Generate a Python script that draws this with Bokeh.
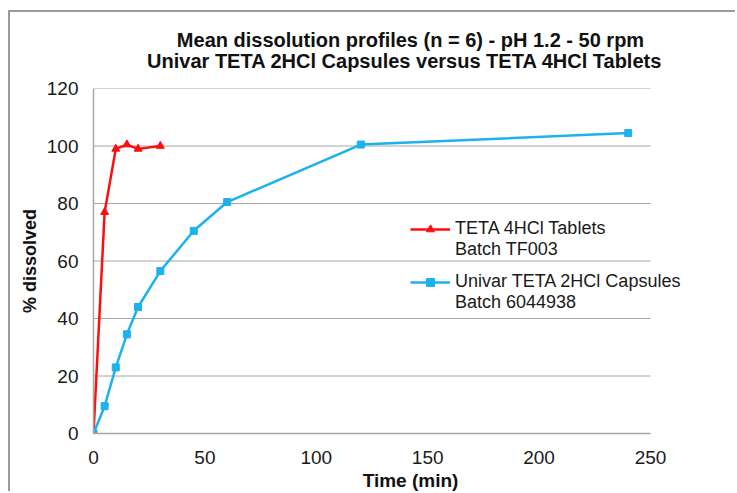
from bokeh.plotting import figure
from bokeh.models import Range1d, Legend, LegendItem, FixedTicker, Title
from bokeh.embed import file_html
from bokeh.resources import INLINE

# Data
time_tablets = [0, 5, 10, 15, 20, 30]
pct_tablets = [0, 77, 99, 100.5, 99, 100]
time_capsules = [0, 5, 10, 15, 20, 30, 45, 60, 120, 240]
pct_capsules = [0, 9.5, 23, 34.5, 44, 56.5, 70.5, 80.5, 100.5, 104.5]
x_ticks = [0, 50, 100, 150, 200, 250]
y_ticks = [0, 20, 40, 60, 80, 100, 120]

title_line1 = "Mean dissolution profiles (n = 6) - pH 1.2 - 50 rpm"
title_line2 = "Univar TETA 2HCl Capsules versus  TETA 4HCl  Tablets"
label_tablets = ["TETA 4HCl Tablets", "Batch TF003"]
label_capsules = ["Univar TETA 2HCl Capsules", "Batch 6044938"]

RED = "#ff0d0d"
BLUE = "#1cb2ec"
FONT = "Liberation Sans"

# layout (pixels)
FIG_W, FIG_H = 727, 481
B_LEFT, B_RIGHT, B_TOP, B_BOTTOM = 83, 10, 76, 60
AXIS_PX = 557  # pixel length of the 0..250 axis
frame_w = FIG_W - B_LEFT - B_RIGHT
x_max = x_ticks[-1]
x_end = x_max * frame_w / AXIS_PX

p = figure(width=FIG_W, height=FIG_H, output_backend="svg", toolbar_location=None,
           x_range=Range1d(0, x_end), y_range=Range1d(y_ticks[0], y_ticks[-1]),
           min_border_left=B_LEFT, min_border_right=B_RIGHT,
           min_border_top=B_TOP, min_border_bottom=B_BOTTOM, title=None)
p.styles = {"border-left": "2px solid #9a9a9a", "border-top": "2px solid #9a9a9a",
            "margin-left": "8px", "margin-top": "10px"}

for txt, so in ((title_line2, 34), (title_line1, -40)):
    t = Title(text=txt, align="center", text_font=FONT,
              text_font_size="20px", text_font_style="bold", text_color="#111111",
              standoff=so)
    p.add_layout(t, "above")

p.outline_line_color = None
p.xgrid.grid_line_color = None
p.ygrid.grid_line_color = None

# horizontal grid lines spanning 0..250 only
p.segment(x0=[0] * (len(y_ticks) - 1), x1=[x_max] * (len(y_ticks) - 1),
          y0=y_ticks[1:], y1=y_ticks[1:], line_color="#a6a6a6", line_width=1)

p.xaxis.ticker = FixedTicker(ticks=x_ticks)
p.yaxis.ticker = FixedTicker(ticks=y_ticks)
p.xaxis.bounds = (0, x_max)
for ax in (p.xaxis, p.yaxis):
    ax.axis_line_color = "#a6a6a6"
    ax.axis_line_width = 1.5
    ax.major_tick_line_color = None
    ax.minor_tick_line_color = None
    ax.major_tick_out = 0
    ax.major_tick_in = 0
    ax.major_label_text_font = FONT
    ax.major_label_text_font_size = "19px"
    ax.major_label_text_color = "#1a1a1a"
    ax.axis_label_text_font = FONT
    ax.axis_label_text_font_style = "bold"
    ax.axis_label_text_color = "#111111"

p.xaxis.axis_label = "Time (min)"
p.yaxis.axis_label = "% dissolved"
p.xaxis.axis_label_text_font_size = "19px"
p.yaxis.axis_label_text_font_size = "18px"
p.xaxis.major_label_standoff = 17
p.yaxis.major_label_standoff = 15
p.xaxis.axis_label_standoff = 3
p.yaxis.axis_label_standoff = 4

r1 = p.line(time_tablets, pct_tablets, line_color=RED, line_width=2.5)
m1 = p.scatter(time_tablets, pct_tablets, marker="triangle", size=8,
               fill_color=RED, line_color=RED)
r2 = p.line(time_capsules, pct_capsules, line_color=BLUE, line_width=2.5)
m2 = p.scatter(time_capsules, pct_capsules, marker="square", size=7,
               fill_color=BLUE, line_color=BLUE)
# invisible renderers for second legend text lines
d1 = p.line(time_tablets, pct_tablets, line_alpha=0)
d2 = p.line(time_capsules, pct_capsules, line_alpha=0)


def make_legend(labels, rens, dummy, loc):
    lg = Legend(items=[LegendItem(label=labels[0], renderers=rens),
                       LegendItem(label=labels[1], renderers=[dummy])],
                location=loc)
    lg.border_line_color = None
    lg.background_fill_alpha = 0
    lg.padding = 0
    lg.margin = 0
    lg.spacing = 0
    lg.glyph_width = 40
    lg.glyph_height = 20
    lg.label_height = 20
    lg.label_standoff = 5
    lg.label_text_font = FONT
    lg.label_text_font_size = "18px"
    lg.label_text_color = "#1a1a1a"
    return lg


p.add_layout(make_legend(label_tablets, [r1, m1], d1, (317, 173)), "center")
p.add_layout(make_legend(label_capsules, [r2, m2], d2, (317, 120)), "center")

open("out.html", "w").write(file_html(p, INLINE))
